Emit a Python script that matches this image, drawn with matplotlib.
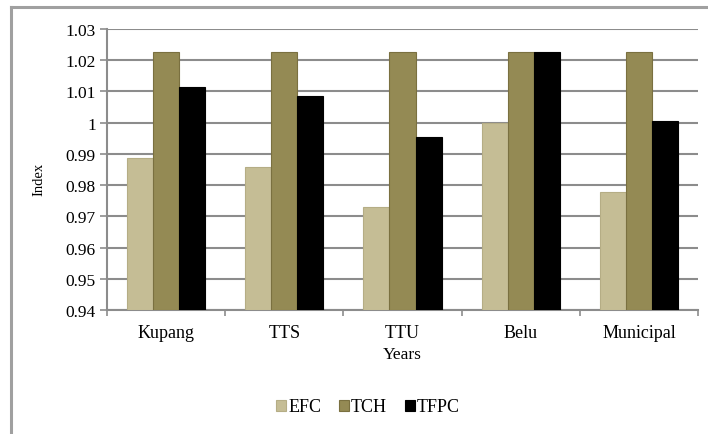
import matplotlib
matplotlib.use("Agg")
import matplotlib.pyplot as plt
import numpy as np
from matplotlib.lines import Line2D

categories = ["Kupang", "TTS", "TTU", "Belu", "Municipal"]
efc = [0.9887, 0.9859, 0.9731, 0.9999, 0.9777]
tch = [1.0226, 1.0226, 1.0226, 1.0226, 1.0226]
tfpc = [1.0115, 1.0086, 0.9953, 1.0226, 1.0006]
series_names = ["EFC", "TCH", "TFPC"]
colors = ["#C5BD95", "#948A54", "#000000"]
yticks = [0.94, 0.95, 0.96, 0.97, 0.98, 0.99, 1.00, 1.01, 1.02, 1.03]
ytick_labels = ["0.94", "0.95", "0.96", "0.97", "0.98", "0.99", "1", "1.01", "1.02", "1.03"]

plt.rcParams['font.family'] = ['Liberation Serif', 'DejaVu Serif']

W, H = 708, 435
fig = plt.figure(figsize=(W / 100, H / 100), dpi=100)
ax = fig.add_axes([107 / W, 1 - 311 / H, (698 - 107) / W, (311 - 30) / H])

x = np.arange(len(categories))
bw = 0.22
for i, (vals, name, c) in enumerate(zip([efc, tch, tfpc], series_names, colors)):
    edge = "#7A7040" if i == 1 else ("#B5AD85" if i == 0 else "#000000")
    ax.bar(x + (i - 1) * bw, [v - 0.94 for v in vals], bottom=0.94, width=bw,
           color=c, edgecolor=edge, linewidth=0.8, label=name, zorder=3)

ax.set_ylim(0.94, 1.03)
ax.set_xlim(-0.5, len(categories) - 0.5)
ax.set_yticks(yticks)
ax.set_yticklabels(ytick_labels, fontsize=12.5)
ax.yaxis.grid(True, color="#8C8C8C", linewidth=1.5, zorder=0)
ax.set_axisbelow(True)

ax.set_xticks(x)
ax.set_xticklabels(categories, fontsize=13)
ax.tick_params(axis="x", length=0, pad=10)
ax.set_xticks(np.arange(len(categories) + 1) - 0.5, minor=True)
ax.tick_params(axis="x", which="minor", length=4, color="#8C8C8C", width=1.2)
ax.tick_params(axis="y", length=5, color="#8C8C8C", width=1.2, pad=3)

for s in ["top", "right"]:
    ax.spines[s].set_visible(False)
for s in ["left", "bottom"]:
    ax.spines[s].set_color("#8C8C8C")
    ax.spines[s].set_linewidth(1.5)

ax.set_ylabel("Index", fontsize=10.5)
ax.yaxis.set_label_coords(-0.104, 0.47)
ax.set_xlabel("Years", fontsize=12.5, labelpad=4)

leg = fig.legend(loc="center", bbox_to_anchor=(368 / W, 1 - 408 / H), ncol=3,
                 frameon=False, fontsize=13, handlelength=0.55, handleheight=0.55,
                 handletextpad=0.1, columnspacing=1.0)

fig.add_artist(Line2D([11 / W, 11 / W], [0, 1 - 8 / H], transform=fig.transFigure,
                      color="#A0A0A0", linewidth=2.2))
fig.add_artist(Line2D([11 / W, 1], [1 - 8 / H, 1 - 8 / H], transform=fig.transFigure,
                      color="#A0A0A0", linewidth=2.2))

fig.savefig("out.png", dpi=100)
